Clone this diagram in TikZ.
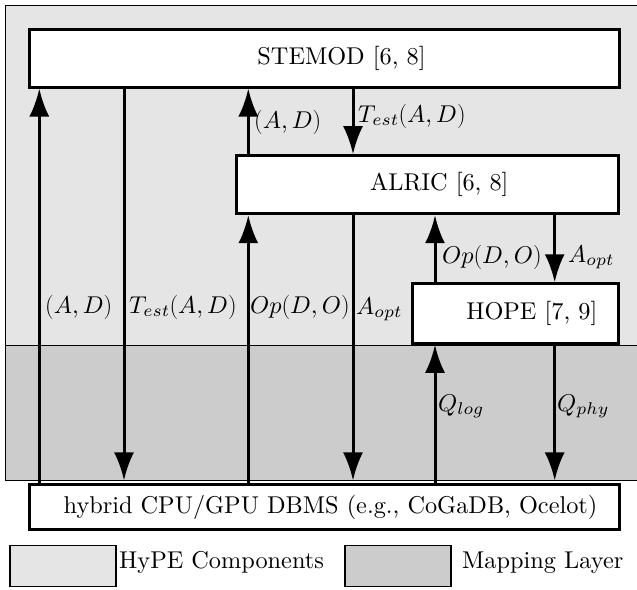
\documentclass[tikz,border=0pt]{standalone}
\usepackage{fix-cm}
\usepackage{fontspec}
\setmainfont{lmroman10-regular.otf}
\DeclareFontFamily{OML}{cmm}{\skewchar\font'177}
\DeclareFontShape{OML}{cmm}{m}{it}{<-14> cmmi5 <14-20> cmmi7 <20-> cmmi10}{}
\DeclareMathSizes{24.3}{24.3}{17.01}{12.15}
\usetikzlibrary{arrows.meta}
\definecolor{hypegray}{gray}{0.9}
\definecolor{mapgray}{gray}{0.8}
\begin{document}
\begin{tikzpicture}[x=1pt,y=-1pt,
  fnt/.style={font=\fontsize{24.3}{29}\selectfont},
  box/.style={draw, fill=white, line width=3pt, inner sep=0pt, fnt},
  arr/.style={line width=3pt, -{Latex[length=28pt,width=20pt]}},
  lbl/.style={anchor=base west, inner sep=0pt, fnt},
  region/.style={draw=black, line width=1pt},
  legbox/.style={draw=black, line width=1.6pt, inner sep=0pt, minimum width=106pt, minimum height=41pt}]
\useasboundingbox (0,0) rectangle (637,589);
% regions
\filldraw[region, fill=hypegray] (5.5,5.5) rectangle (660,345);
\filldraw[region, fill=mapgray] (5.5,345) rectangle (660,480);
% boxes
\node[box, minimum width=590pt, minimum height=58pt] (stemod) at (324,58) {\hspace*{35pt}STEMOD [6, 8]};
\node[box, minimum width=382.3pt, minimum height=58pt] (alric) at (427.8,184.7) {\hspace*{23pt}ALRIC [6, 8]};
\node[box, minimum width=206.3pt, minimum height=59.5pt] (hope) at (515.8,313.5) {\hspace*{32pt}HOPE [7, 9]};
\node[box, minimum width=590pt, minimum height=44.5pt] (dbms) at (324.5,507.2) {\hspace*{12pt}hybrid CPU/GPU DBMS (e.g., CoGaDB, Ocelot)};
% column coordinates
\coordinate (c1) at (39.3,0);
\coordinate (c2) at (124,0);
\coordinate (c3) at (248.3,0);
\coordinate (c4) at (353,0);
\coordinate (c5) at (435,0);
\coordinate (c6) at (554.7,0);
% connectors
\draw[arr] (dbms.north -| c1) -- (stemod.south -| c1);
\draw[arr, shorten >=3pt] (stemod.south -| c2) -- (dbms.north -| c2);
\draw[arr] (dbms.north -| c3) -- (alric.south -| c3);
\draw[arr] (alric.north -| c3) -- (stemod.south -| c3);
\draw[arr] (stemod.south -| c4) -- (alric.north -| c4);
\draw[arr, shorten >=3pt] (alric.south -| c4) -- (dbms.north -| c4);
\draw[arr] (dbms.north -| c5) -- (hope.south -| c5);
\draw[arr] (hope.north -| c5) -- (alric.south -| c5);
\draw[arr] (alric.south -| c6) -- (hope.north -| c6);
\draw[arr, shorten >=3pt] (hope.south -| c6) -- (dbms.north -| c6);
% labels
\node[lbl] (l1) at (45,313) {$(A,D)$};
\node[lbl] (l2) at (129,313) {$T_{est}(A,D)$};
\node[lbl] (l3) at (250,313) {$Op(D,O)$};
\node[lbl] (l4) at (356,314) {$A_{opt}$};
\node[lbl] (l5) at (254,128) {$(A,D)$};
\node[lbl] (l6) at (358,122) {$T_{est}(A,D)$};
\node[lbl] (l7) at (442,263) {$Op(D,O)$};
\node[lbl] (l8) at (568,262) {$A_{opt}$};
\node[lbl] (l9) at (438,411) {$Q_{log}$};
\node[lbl] (l10) at (557,411) {$Q_{phy}$};
% legend
\node[legbox, fill=hypegray] (leg1) at (62.9,566) {};
\node[lbl] (legt1) at (119,568) {HyPE Components};
\node[legbox, fill=mapgray] (leg2) at (397.9,566) {};
\node[lbl] (legt2) at (462,568) {Mapping Layer};
\end{tikzpicture}
\end{document}
